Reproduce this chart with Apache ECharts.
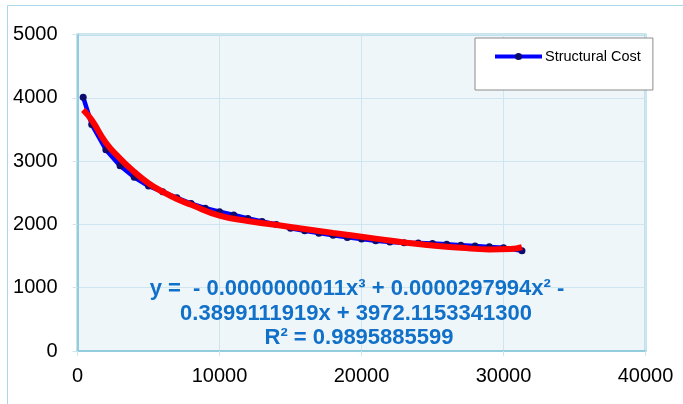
<!DOCTYPE html>
<html>
<head>
<meta charset="utf-8">
<script src="https://cdn.jsdelivr.net/npm/echarts@6/dist/echarts.min.js"></script>
<style>html,body{margin:0;padding:0;background:#fff;}#c{width:683px;height:404px;}</style>
</head>
<body>
<div id="c"></div>
<script>
var costX = [400,1000,2000,3000,4000,5000,6000,7000,8000,9000,10000,11000,12000,13000,14000,15000,16000,17000,18000,19000,20000,21000,22000,23000,24000,25000,26000,27000,28000,29000,30000,31300];
var costY = [4010,3580,3180,2925,2745,2607,2515,2420,2330,2255,2200,2148,2095,2045,2000,1940,1898,1862,1830,1795,1768,1740,1722,1710,1705,1698,1685,1672,1658,1645,1630,1585];
var trendX = [400,1000,2000,3000,4000,5000,6000,7000,8000,10000,12000,15000,18000,21000,23000,25000,27000,29000,30500,31300];
var trendY = [3810,3650,3290,3040,2830,2650,2515,2400,2310,2140,2055,1960,1865,1775,1715,1668,1630,1605,1610,1640];
var xTicks = [0,10000,20000,30000,40000];
var yTicks = [0,1000,2000,3000,4000,5000];
var eqLines = ['y =  - 0.0000000011x\u00B3 + 0.0000297994x\u00B2 -', '0.3899111919x + 3972.1153341300', 'R\u00B2 = 0.9895885599'];

function pairs(xs, ys){ return xs.map(function(x,i){ return [x, ys[i]]; }); }

var chart = echarts.init(document.getElementById('c'), null, {renderer:'canvas'});
var font = 'Arial, "Liberation Sans", sans-serif';
var gridLine = '#CFE6F1';
var axisCol = '#93CDDD';
chart.setOption({
  animation: false,
  backgroundColor: '#ffffff',
  grid: {left: 77.5, right: 37.5, top: 34.5, bottom: 53, show: true, backgroundColor: '#EEF6FA', borderColor: axisCol, borderWidth: 2},
  legend: {
    data: ['Structural Cost'],
    left: 475, top: 38,
    padding: [11, 12, 26, 18],
    backgroundColor: '#ffffff', borderColor: '#8C8C8C', borderWidth: 1,
    itemWidth: 47, itemHeight: 9, itemGap: 4,
    lineStyle: {width: 4},
    textStyle: {fontFamily: font, fontSize: 14.5, color: '#000', padding: [0, 0, 0, -2]}
  },
  xAxis: {
    type: 'value', min: xTicks[0], max: xTicks[xTicks.length-1], interval: xTicks[1]-xTicks[0],
    axisLine: {show: true, lineStyle: {color: axisCol, width: 2}},
    axisTick: {show: true, length: 5, lineStyle: {color: gridLine}},
    axisLabel: {fontFamily: font, fontSize: 20, color: '#000', margin: 15, formatter: function(v){ return String(v); }},
    splitLine: {show: true, lineStyle: {color: gridLine, width: 1}}
  },
  yAxis: {
    type: 'value', min: yTicks[0], max: yTicks[yTicks.length-1], interval: yTicks[1]-yTicks[0],
    axisLine: {show: true, lineStyle: {color: axisCol, width: 2}},
    axisTick: {show: true, length: 5, lineStyle: {color: gridLine}},
    axisLabel: {fontFamily: font, fontSize: 20, color: '#000', margin: 20, formatter: function(v){ return String(v); }},
    splitLine: {show: true, lineStyle: {color: gridLine, width: 1}}
  },
  series: [
    {
      name: 'Structural Cost', type: 'line', data: pairs(costX, costY),
      symbol: 'circle', symbolSize: 7, showSymbol: true,
      lineStyle: {color: '#0000FF', width: 4.5},
      itemStyle: {color: '#0B0B70'},
      z: 2
    },
    {
      name: 'Trend', type: 'line', data: pairs(trendX, trendY),
      smooth: true, showSymbol: false, symbol: 'none',
      lineStyle: {color: '#FF0000', width: 6},
      z: 3
    }
  ],
  graphic: [
    {type: 'line', shape: {x1: 7.5, y1: 5.5, x2: 683, y2: 5.5}, style: {stroke: '#A9D9E8', lineWidth: 1}, silent: true},
    {type: 'line', shape: {x1: 7.5, y1: 5.5, x2: 7.5, y2: 404}, style: {stroke: '#A9D9E8', lineWidth: 1}, silent: true},
    {type: 'text', x: 357, y: 289, z: 100, style: {text: eqLines[0], font: 'bold 22px ' + font, fill: '#1170C8', align: 'center', verticalAlign: 'middle'}},
    {type: 'text', x: 356, y: 313.5, z: 100, style: {text: eqLines[1], font: 'bold 22px ' + font, fill: '#1170C8', align: 'center', verticalAlign: 'middle'}},
    {type: 'text', x: 359, y: 338, z: 100, style: {text: eqLines[2], font: 'bold 22px ' + font, fill: '#1170C8', align: 'center', verticalAlign: 'middle'}}
  ]
});
</script>
</body>
</html>
